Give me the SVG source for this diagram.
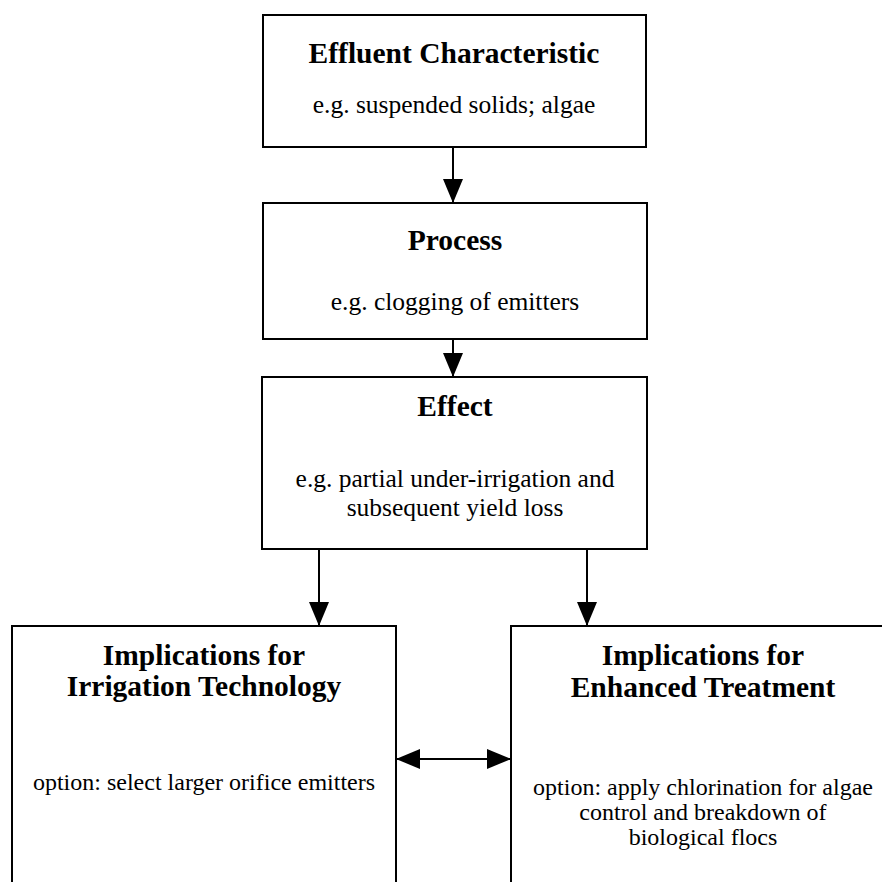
<svg xmlns="http://www.w3.org/2000/svg" width="883" height="882" viewBox="0 0 883 882">
  <style>
    .box { fill: #ffffff; stroke: #000000; stroke-width: 2; }
    .title { font-family: "Liberation Serif", "Times New Roman", serif; font-weight: bold; font-size: 29.5px; fill: #000000; text-anchor: middle; }
    .body { font-family: "Liberation Serif", "Times New Roman", serif; font-size: 25.5px; fill: #000000; text-anchor: middle; }
    .note { font-size: 24px; }
    .link { stroke: #000000; stroke-width: 2; fill: none; }
  </style>
  <defs>
    <marker id="head" viewBox="0 0 24 20" refX="24" refY="10" markerWidth="24" markerHeight="20" markerUnits="userSpaceOnUse" orient="auto-start-reverse">
      <path d="M0,0 L24,10 L0,20 Z" fill="#000000"/>
    </marker>
  </defs>
  <rect width="883" height="882" fill="#ffffff"/>

  <g id="effluent-characteristic">
    <rect class="box" x="263" y="15" width="383" height="132"/>
    <text class="title" x="454" y="63">Effluent Characteristic</text>
    <text class="body" x="454" y="113">e.g. suspended solids; algae</text>
  </g>

  <g id="process">
    <rect class="box" x="263" y="203" width="384" height="136"/>
    <text class="title" x="455" y="250">Process</text>
    <text class="body" x="455" y="310">e.g. clogging of emitters</text>
  </g>

  <g id="effect">
    <rect class="box" x="262" y="377" width="385" height="172"/>
    <text class="title" x="455" y="416">Effect</text>
    <text class="body" x="455" y="487">e.g. partial under-irrigation and</text>
    <text class="body" x="455" y="516">subsequent yield loss</text>
  </g>

  <g id="irrigation-technology">
    <path class="box" d="M12,890 V626 H396 V890"/>
    <text class="title" x="204" y="665">Implications for</text>
    <text class="title" x="204" y="696">Irrigation Technology</text>
    <text class="body note" x="204" y="790">option: select larger orifice emitters</text>
  </g>

  <g id="enhanced-treatment">
    <path class="box" d="M511,890 V626 H882"/>
    <text class="title" x="703" y="665">Implications for</text>
    <text class="title" x="703" y="697">Enhanced Treatment</text>
    <text class="body note" x="703" y="795">option: apply chlorination for algae</text>
    <text class="body note" x="703" y="820">control and breakdown of</text>
    <text class="body note" x="703" y="845">biological flocs</text>
  </g>

  <g id="connectors">
    <line class="link" x1="453" y1="147" x2="453" y2="203" marker-end="url(#head)"/>
    <line class="link" x1="453" y1="339" x2="453" y2="377" marker-end="url(#head)"/>
    <line class="link" x1="319" y1="549" x2="319" y2="626" marker-end="url(#head)"/>
    <line class="link" x1="587" y1="549" x2="587" y2="626" marker-end="url(#head)"/>
    <line class="link" x1="396" y1="759" x2="511" y2="759" marker-start="url(#head)" marker-end="url(#head)"/>
  </g>
</svg>
